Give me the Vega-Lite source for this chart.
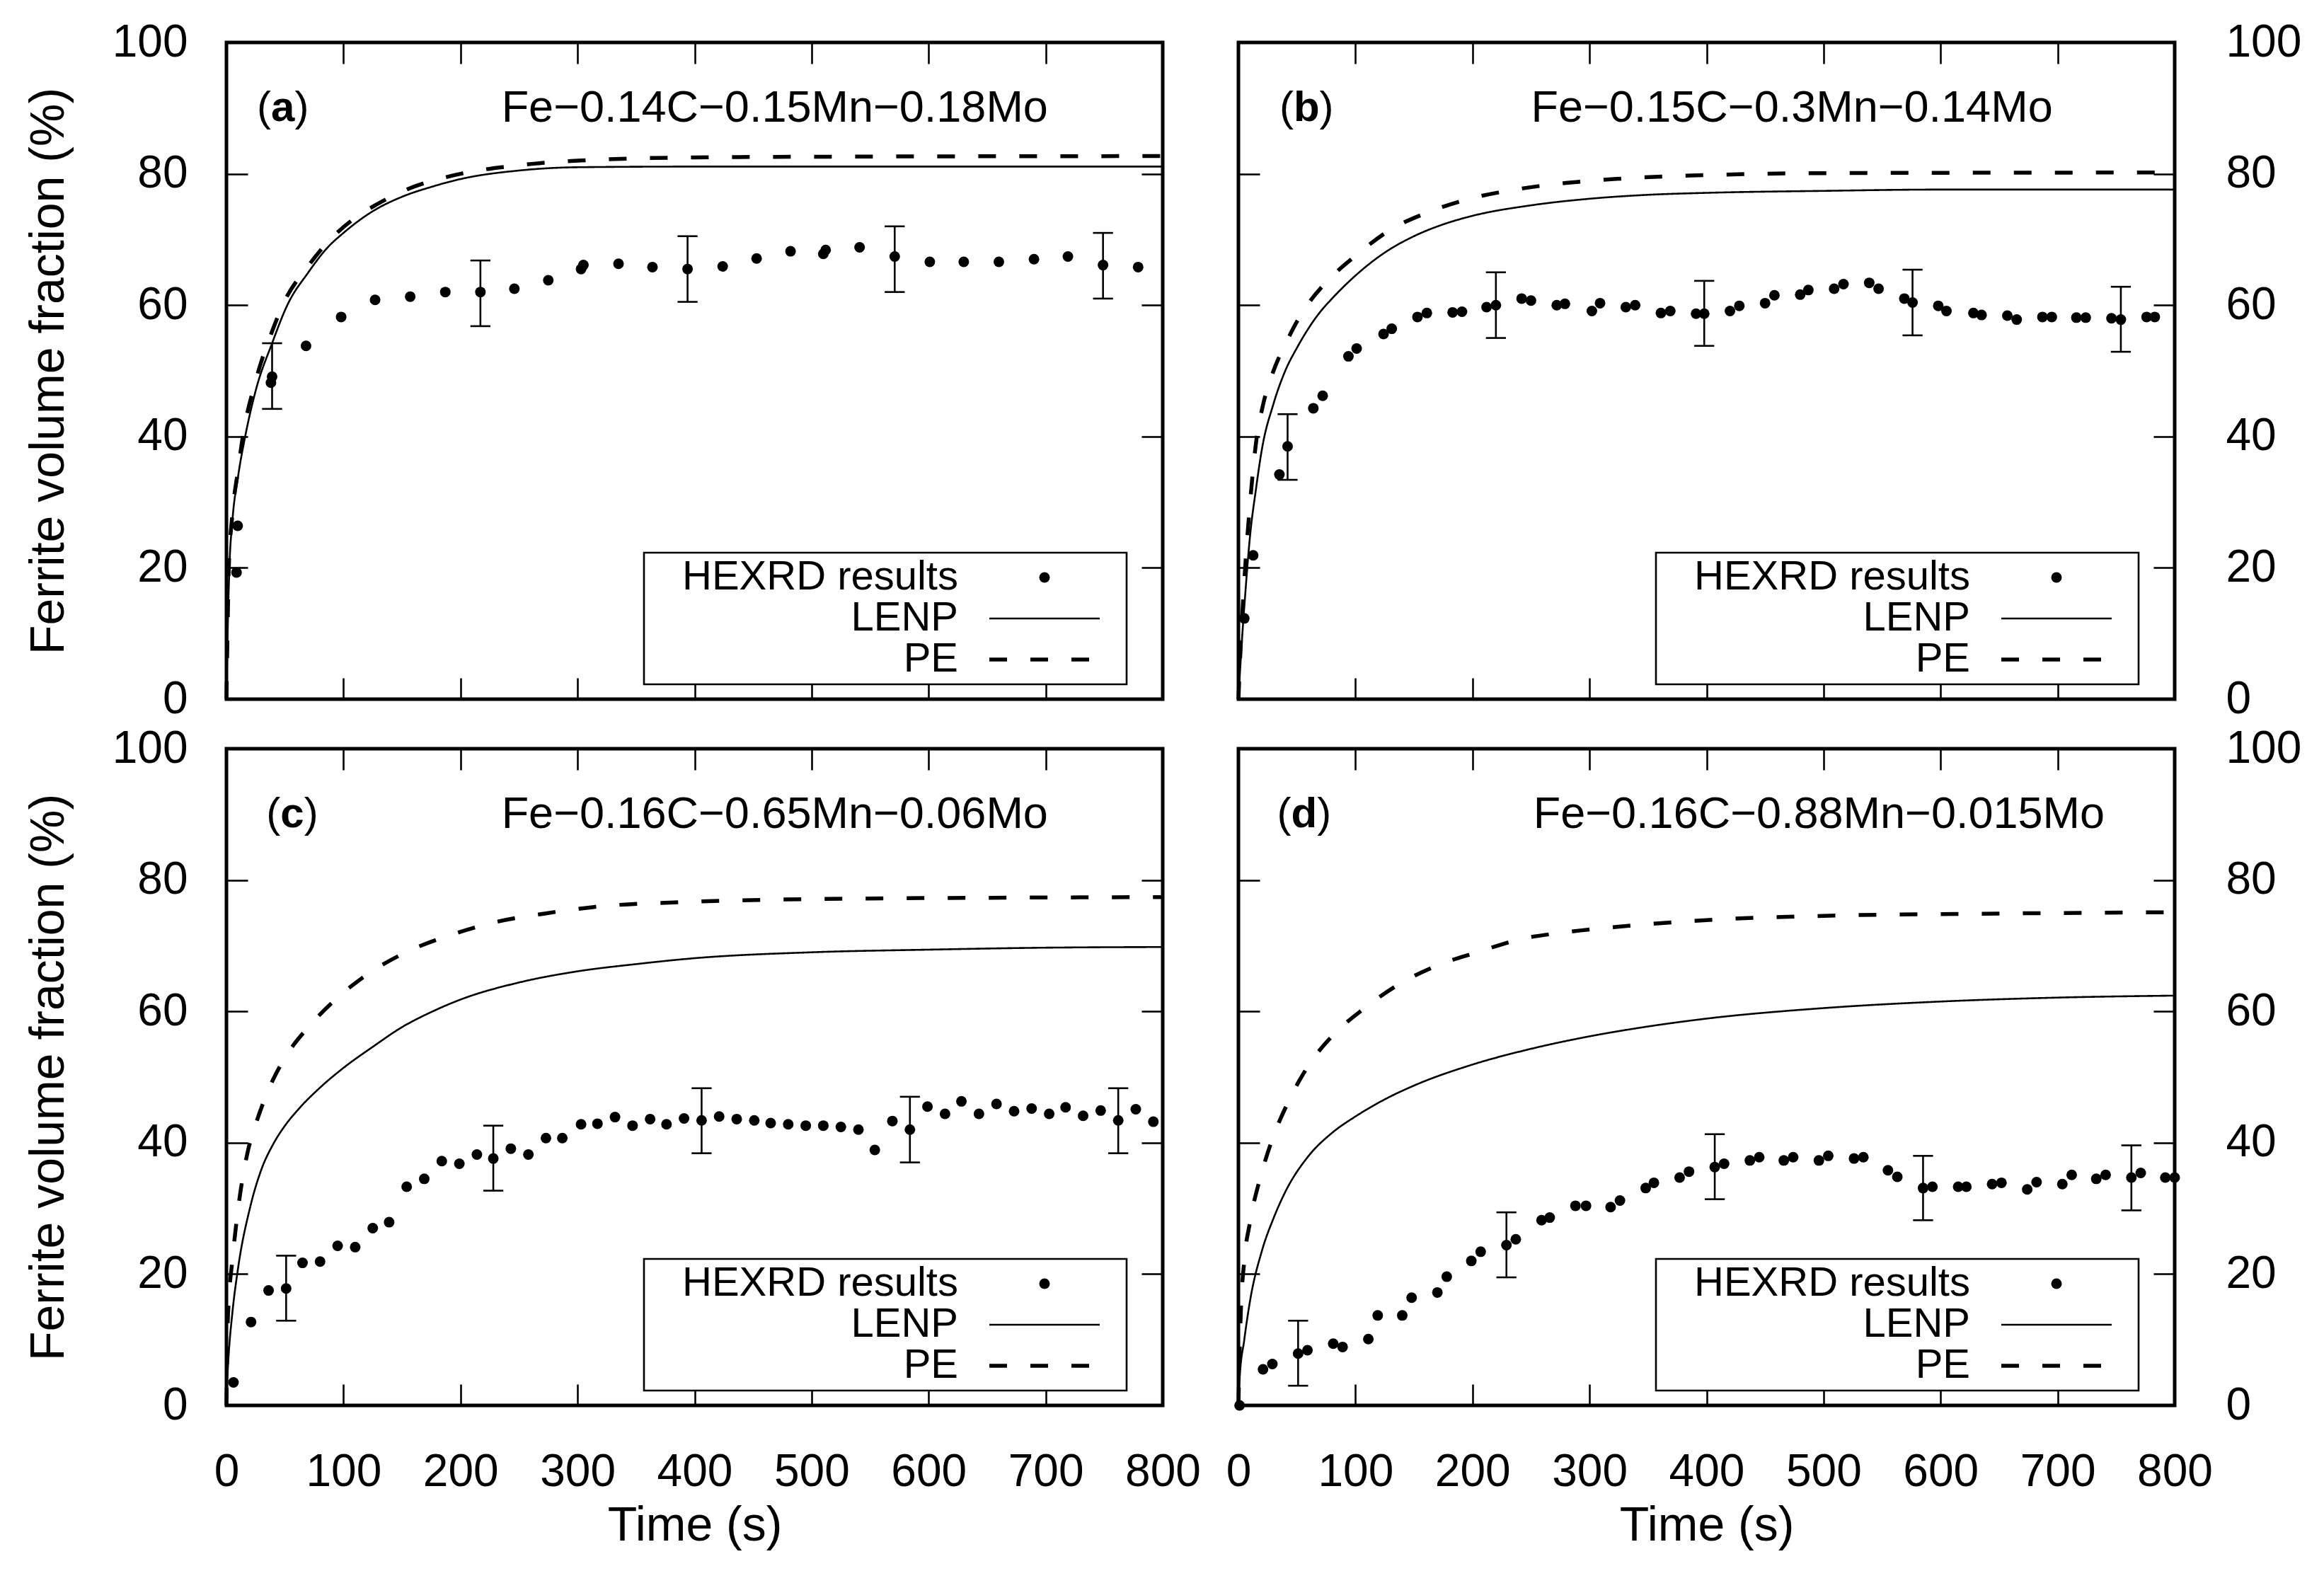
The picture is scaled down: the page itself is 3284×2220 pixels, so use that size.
{
  "$schema": "https://vega.github.io/schema/vega-lite/v6.json",
  "background": "white",
  "padding": {"left": 32, "top": 25, "right": 30, "bottom": 20},
  "datasets": {
    "hexrd": [
      {"p": "a", "t": 8.6, "v": 19.3}, {"p": "a", "t": 9.6, "v": 26.4}, {"p": "a", "t": 38, "v": 48.2}, {"p": "a", "t": 39, "v": 49.1},
      {"p": "a", "t": 68, "v": 53.8}, {"p": "a", "t": 98, "v": 58.2}, {"p": "a", "t": 127, "v": 60.8}, {"p": "a", "t": 157, "v": 61.3},
      {"p": "a", "t": 187, "v": 62}, {"p": "a", "t": 217, "v": 62}, {"p": "a", "t": 246, "v": 62.5}, {"p": "a", "t": 275, "v": 63.8},
      {"p": "a", "t": 303, "v": 65.5}, {"p": "a", "t": 305, "v": 66.1}, {"p": "a", "t": 335, "v": 66.3}, {"p": "a", "t": 364, "v": 65.8},
      {"p": "a", "t": 394, "v": 65.5}, {"p": "a", "t": 424, "v": 65.9}, {"p": "a", "t": 453, "v": 67.1}, {"p": "a", "t": 482, "v": 68.2},
      {"p": "a", "t": 510, "v": 67.8}, {"p": "a", "t": 512, "v": 68.4}, {"p": "a", "t": 541, "v": 68.8}, {"p": "a", "t": 571, "v": 67.4},
      {"p": "a", "t": 601, "v": 66.6}, {"p": "a", "t": 630, "v": 66.6}, {"p": "a", "t": 660, "v": 66.6}, {"p": "a", "t": 690, "v": 67},
      {"p": "a", "t": 719, "v": 67.4}, {"p": "a", "t": 749, "v": 66.1}, {"p": "a", "t": 779, "v": 65.8},

      {"p": "b", "t": 5, "v": 12.3}, {"p": "b", "t": 12.6, "v": 21.9}, {"p": "b", "t": 35, "v": 34.2}, {"p": "b", "t": 42, "v": 38.5},
      {"p": "b", "t": 64, "v": 44.3}, {"p": "b", "t": 72, "v": 46.2}, {"p": "b", "t": 94, "v": 52.2}, {"p": "b", "t": 101, "v": 53.4},
      {"p": "b", "t": 124, "v": 55.6}, {"p": "b", "t": 131, "v": 56.4}, {"p": "b", "t": 153, "v": 58.2}, {"p": "b", "t": 161, "v": 58.8},
      {"p": "b", "t": 183, "v": 58.9}, {"p": "b", "t": 191, "v": 59}, {"p": "b", "t": 212, "v": 59.7}, {"p": "b", "t": 220, "v": 60},
      {"p": "b", "t": 242, "v": 61}, {"p": "b", "t": 250, "v": 60.7}, {"p": "b", "t": 272, "v": 60}, {"p": "b", "t": 279, "v": 60.2},
      {"p": "b", "t": 302, "v": 59.1}, {"p": "b", "t": 309, "v": 60.3}, {"p": "b", "t": 331, "v": 59.7}, {"p": "b", "t": 339, "v": 60},
      {"p": "b", "t": 361, "v": 58.8}, {"p": "b", "t": 369, "v": 59.1}, {"p": "b", "t": 391, "v": 58.7}, {"p": "b", "t": 398, "v": 58.7},
      {"p": "b", "t": 420, "v": 59.1}, {"p": "b", "t": 428, "v": 59.9}, {"p": "b", "t": 450, "v": 60.3}, {"p": "b", "t": 458, "v": 61.5},
      {"p": "b", "t": 480, "v": 61.6}, {"p": "b", "t": 487, "v": 62.3}, {"p": "b", "t": 509, "v": 62.5}, {"p": "b", "t": 517, "v": 63.2},
      {"p": "b", "t": 539, "v": 63.4}, {"p": "b", "t": 547, "v": 62.5}, {"p": "b", "t": 569, "v": 61}, {"p": "b", "t": 576, "v": 60.4},
      {"p": "b", "t": 598, "v": 59.9}, {"p": "b", "t": 605, "v": 59.1}, {"p": "b", "t": 628, "v": 58.8}, {"p": "b", "t": 635, "v": 58.5},
      {"p": "b", "t": 657, "v": 58.4}, {"p": "b", "t": 665, "v": 57.8}, {"p": "b", "t": 687, "v": 58.2}, {"p": "b", "t": 695, "v": 58.2},
      {"p": "b", "t": 716, "v": 58.1}, {"p": "b", "t": 724, "v": 58.1}, {"p": "b", "t": 746, "v": 58}, {"p": "b", "t": 754, "v": 57.8},
      {"p": "b", "t": 776, "v": 58.2}, {"p": "b", "t": 783, "v": 58.2},

      {"p": "c", "t": 6, "v": 3.5}, {"p": "c", "t": 21, "v": 12.7}, {"p": "c", "t": 36, "v": 17.5}, {"p": "c", "t": 51, "v": 17.8},
      {"p": "c", "t": 65, "v": 21.7}, {"p": "c", "t": 80, "v": 21.9}, {"p": "c", "t": 95, "v": 24.3}, {"p": "c", "t": 110, "v": 24.1},
      {"p": "c", "t": 125, "v": 27}, {"p": "c", "t": 139, "v": 27.9}, {"p": "c", "t": 154, "v": 33.3}, {"p": "c", "t": 169, "v": 34.5},
      {"p": "c", "t": 184, "v": 37.2}, {"p": "c", "t": 199, "v": 36.8}, {"p": "c", "t": 214, "v": 38.2}, {"p": "c", "t": 228, "v": 37.6},
      {"p": "c", "t": 243, "v": 39.1}, {"p": "c", "t": 258, "v": 38.2}, {"p": "c", "t": 273, "v": 40.7}, {"p": "c", "t": 287, "v": 40.7},
      {"p": "c", "t": 303, "v": 42.8}, {"p": "c", "t": 317, "v": 42.9}, {"p": "c", "t": 332, "v": 43.9}, {"p": "c", "t": 347, "v": 42.6},
      {"p": "c", "t": 362, "v": 43.6}, {"p": "c", "t": 376, "v": 42.8}, {"p": "c", "t": 391, "v": 43.7}, {"p": "c", "t": 406, "v": 43.4},
      {"p": "c", "t": 421, "v": 44}, {"p": "c", "t": 436, "v": 43.6}, {"p": "c", "t": 451, "v": 43.4}, {"p": "c", "t": 465, "v": 43},
      {"p": "c", "t": 480, "v": 42.8}, {"p": "c", "t": 495, "v": 42.6}, {"p": "c", "t": 510, "v": 42.6}, {"p": "c", "t": 525, "v": 42.4},
      {"p": "c", "t": 540, "v": 42}, {"p": "c", "t": 554, "v": 38.9}, {"p": "c", "t": 569, "v": 43.3}, {"p": "c", "t": 584, "v": 42},
      {"p": "c", "t": 599, "v": 45.5}, {"p": "c", "t": 614, "v": 44.4}, {"p": "c", "t": 628, "v": 46.3}, {"p": "c", "t": 643, "v": 44.4},
      {"p": "c", "t": 658, "v": 45.9}, {"p": "c", "t": 673, "v": 44.8}, {"p": "c", "t": 688, "v": 45.2}, {"p": "c", "t": 703, "v": 44.4},
      {"p": "c", "t": 717, "v": 45.4}, {"p": "c", "t": 732, "v": 44.1}, {"p": "c", "t": 747, "v": 44.9}, {"p": "c", "t": 762, "v": 43.4},
      {"p": "c", "t": 777, "v": 45.1}, {"p": "c", "t": 792, "v": 43.2},

      {"p": "d", "t": 1, "v": 0}, {"p": "d", "t": 21, "v": 5.5}, {"p": "d", "t": 29, "v": 6.3}, {"p": "d", "t": 51, "v": 7.9},
      {"p": "d", "t": 59, "v": 8.4}, {"p": "d", "t": 81, "v": 9.4}, {"p": "d", "t": 89, "v": 8.9}, {"p": "d", "t": 111, "v": 10.1},
      {"p": "d", "t": 119, "v": 13.7}, {"p": "d", "t": 140, "v": 13.7}, {"p": "d", "t": 148, "v": 16.4}, {"p": "d", "t": 170, "v": 17.2},
      {"p": "d", "t": 178, "v": 19.6}, {"p": "d", "t": 199, "v": 22}, {"p": "d", "t": 207, "v": 23.4}, {"p": "d", "t": 229, "v": 24.4},
      {"p": "d", "t": 237, "v": 25.3}, {"p": "d", "t": 259, "v": 28.2}, {"p": "d", "t": 266, "v": 28.6}, {"p": "d", "t": 288, "v": 30.4},
      {"p": "d", "t": 297, "v": 30.4}, {"p": "d", "t": 318, "v": 30.2}, {"p": "d", "t": 326, "v": 31.2}, {"p": "d", "t": 348, "v": 33.1},
      {"p": "d", "t": 355, "v": 33.9}, {"p": "d", "t": 377, "v": 34.7}, {"p": "d", "t": 385, "v": 35.6}, {"p": "d", "t": 407, "v": 36.3},
      {"p": "d", "t": 415, "v": 36.8}, {"p": "d", "t": 437, "v": 37.3}, {"p": "d", "t": 445, "v": 37.8}, {"p": "d", "t": 466, "v": 37.3},
      {"p": "d", "t": 474, "v": 37.8}, {"p": "d", "t": 496, "v": 37.3}, {"p": "d", "t": 504, "v": 38}, {"p": "d", "t": 526, "v": 37.6},
      {"p": "d", "t": 534, "v": 37.8}, {"p": "d", "t": 555, "v": 35.8}, {"p": "d", "t": 563, "v": 34.8}, {"p": "d", "t": 585, "v": 33.1},
      {"p": "d", "t": 593, "v": 33.3}, {"p": "d", "t": 615, "v": 33.3}, {"p": "d", "t": 622, "v": 33.3}, {"p": "d", "t": 644, "v": 33.7},
      {"p": "d", "t": 652, "v": 33.9}, {"p": "d", "t": 674, "v": 32.9}, {"p": "d", "t": 682, "v": 34}, {"p": "d", "t": 704, "v": 33.7},
      {"p": "d", "t": 712, "v": 35.1}, {"p": "d", "t": 733, "v": 34.5}, {"p": "d", "t": 741, "v": 35.1}, {"p": "d", "t": 763, "v": 34.7},
      {"p": "d", "t": 771, "v": 35.4}, {"p": "d", "t": 792, "v": 34.7}, {"p": "d", "t": 800, "v": 34.7}
    ],
    "errs": [
      {"p": "a", "t": 39, "lo": 44.2, "hi": 54.2}, {"p": "a", "t": 217, "lo": 56.8, "hi": 66.8}, {"p": "a", "t": 394, "lo": 60.5, "hi": 70.5},
      {"p": "a", "t": 571, "lo": 62, "hi": 72}, {"p": "a", "t": 749, "lo": 61, "hi": 71},
      {"p": "b", "t": 42, "lo": 33.4, "hi": 43.4}, {"p": "b", "t": 220, "lo": 55, "hi": 65}, {"p": "b", "t": 398, "lo": 53.8, "hi": 63.7},
      {"p": "b", "t": 576, "lo": 55.4, "hi": 65.4}, {"p": "b", "t": 754, "lo": 52.9, "hi": 62.8},
      {"p": "c", "t": 51, "lo": 12.9, "hi": 22.8}, {"p": "c", "t": 228, "lo": 32.7, "hi": 42.6}, {"p": "c", "t": 406, "lo": 38.4, "hi": 48.3},
      {"p": "c", "t": 584, "lo": 37, "hi": 47}, {"p": "c", "t": 762, "lo": 38.4, "hi": 48.3},
      {"p": "d", "t": 51, "lo": 3, "hi": 12.9}, {"p": "d", "t": 229, "lo": 19.5, "hi": 29.4}, {"p": "d", "t": 407, "lo": 31.4, "hi": 41.3},
      {"p": "d", "t": 585, "lo": 28.2, "hi": 38}, {"p": "d", "t": 763, "lo": 29.7, "hi": 39.6}
    ],
    "models": [
      {"p": "a", "m": "LENP", "t": 0, "v": 0}, {"p": "a", "m": "LENP", "t": 1, "v": 10}, {"p": "a", "m": "LENP", "t": 2.5, "v": 20},
      {"p": "a", "m": "LENP", "t": 5, "v": 27}, {"p": "a", "m": "LENP", "t": 10, "v": 34}, {"p": "a", "m": "LENP", "t": 16, "v": 40},
      {"p": "a", "m": "LENP", "t": 25, "v": 47}, {"p": "a", "m": "LENP", "t": 39, "v": 54.2}, {"p": "a", "m": "LENP", "t": 52, "v": 60},
      {"p": "a", "m": "LENP", "t": 70, "v": 65}, {"p": "a", "m": "LENP", "t": 86, "v": 68.7}, {"p": "a", "m": "LENP", "t": 100, "v": 71},
      {"p": "a", "m": "LENP", "t": 125, "v": 74.3}, {"p": "a", "m": "LENP", "t": 150, "v": 76.5}, {"p": "a", "m": "LENP", "t": 175, "v": 78},
      {"p": "a", "m": "LENP", "t": 200, "v": 79.2}, {"p": "a", "m": "LENP", "t": 250, "v": 80.5}, {"p": "a", "m": "LENP", "t": 300, "v": 81},
      {"p": "a", "m": "LENP", "t": 400, "v": 81.1}, {"p": "a", "m": "LENP", "t": 600, "v": 81.1}, {"p": "a", "m": "LENP", "t": 800, "v": 81.1},
      {"p": "a", "m": "PE", "t": 0, "v": 0}, {"p": "a", "m": "PE", "t": 1, "v": 11}, {"p": "a", "m": "PE", "t": 2, "v": 20},
      {"p": "a", "m": "PE", "t": 5, "v": 28}, {"p": "a", "m": "PE", "t": 10, "v": 35}, {"p": "a", "m": "PE", "t": 14, "v": 40},
      {"p": "a", "m": "PE", "t": 25, "v": 48.5}, {"p": "a", "m": "PE", "t": 39, "v": 56}, {"p": "a", "m": "PE", "t": 48, "v": 60},
      {"p": "a", "m": "PE", "t": 70, "v": 66}, {"p": "a", "m": "PE", "t": 86, "v": 69.5}, {"p": "a", "m": "PE", "t": 110, "v": 73.3},
      {"p": "a", "m": "PE", "t": 128, "v": 75.3}, {"p": "a", "m": "PE", "t": 150, "v": 77.3}, {"p": "a", "m": "PE", "t": 200, "v": 80},
      {"p": "a", "m": "PE", "t": 250, "v": 81.3}, {"p": "a", "m": "PE", "t": 300, "v": 82}, {"p": "a", "m": "PE", "t": 400, "v": 82.5},
      {"p": "a", "m": "PE", "t": 500, "v": 82.6}, {"p": "a", "m": "PE", "t": 800, "v": 82.7},

      {"p": "b", "m": "LENP", "t": 0, "v": 0}, {"p": "b", "m": "LENP", "t": 3, "v": 9}, {"p": "b", "m": "LENP", "t": 5, "v": 14},
      {"p": "b", "m": "LENP", "t": 10, "v": 25}, {"p": "b", "m": "LENP", "t": 15, "v": 32}, {"p": "b", "m": "LENP", "t": 20, "v": 38},
      {"p": "b", "m": "LENP", "t": 30, "v": 45}, {"p": "b", "m": "LENP", "t": 40, "v": 50}, {"p": "b", "m": "LENP", "t": 50, "v": 53.5},
      {"p": "b", "m": "LENP", "t": 60, "v": 56.5}, {"p": "b", "m": "LENP", "t": 70, "v": 59}, {"p": "b", "m": "LENP", "t": 80, "v": 61},
      {"p": "b", "m": "LENP", "t": 100, "v": 64.5}, {"p": "b", "m": "LENP", "t": 125, "v": 68}, {"p": "b", "m": "LENP", "t": 150, "v": 70.5},
      {"p": "b", "m": "LENP", "t": 175, "v": 72.3}, {"p": "b", "m": "LENP", "t": 200, "v": 73.6}, {"p": "b", "m": "LENP", "t": 250, "v": 75.2},
      {"p": "b", "m": "LENP", "t": 300, "v": 76.2}, {"p": "b", "m": "LENP", "t": 350, "v": 76.8}, {"p": "b", "m": "LENP", "t": 400, "v": 77.1},
      {"p": "b", "m": "LENP", "t": 500, "v": 77.4}, {"p": "b", "m": "LENP", "t": 600, "v": 77.6}, {"p": "b", "m": "LENP", "t": 800, "v": 77.6},
      {"p": "b", "m": "PE", "t": 0, "v": 0}, {"p": "b", "m": "PE", "t": 3, "v": 12}, {"p": "b", "m": "PE", "t": 5, "v": 18},
      {"p": "b", "m": "PE", "t": 10, "v": 30}, {"p": "b", "m": "PE", "t": 15, "v": 39}, {"p": "b", "m": "PE", "t": 20, "v": 44},
      {"p": "b", "m": "PE", "t": 30, "v": 50}, {"p": "b", "m": "PE", "t": 40, "v": 54}, {"p": "b", "m": "PE", "t": 50, "v": 57.5},
      {"p": "b", "m": "PE", "t": 60, "v": 60.3}, {"p": "b", "m": "PE", "t": 75, "v": 63.5}, {"p": "b", "m": "PE", "t": 100, "v": 67.5},
      {"p": "b", "m": "PE", "t": 130, "v": 71.5}, {"p": "b", "m": "PE", "t": 160, "v": 74}, {"p": "b", "m": "PE", "t": 200, "v": 76.3},
      {"p": "b", "m": "PE", "t": 240, "v": 77.7}, {"p": "b", "m": "PE", "t": 280, "v": 78.6}, {"p": "b", "m": "PE", "t": 330, "v": 79.3},
      {"p": "b", "m": "PE", "t": 400, "v": 79.8}, {"p": "b", "m": "PE", "t": 500, "v": 80.1}, {"p": "b", "m": "PE", "t": 800, "v": 80.2},

      {"p": "c", "m": "LENP", "t": 0, "v": 0}, {"p": "c", "m": "LENP", "t": 1, "v": 5}, {"p": "c", "m": "LENP", "t": 2, "v": 8},
      {"p": "c", "m": "LENP", "t": 5, "v": 14}, {"p": "c", "m": "LENP", "t": 10, "v": 21}, {"p": "c", "m": "LENP", "t": 20, "v": 30},
      {"p": "c", "m": "LENP", "t": 30, "v": 36}, {"p": "c", "m": "LENP", "t": 40, "v": 39.8}, {"p": "c", "m": "LENP", "t": 50, "v": 42.6},
      {"p": "c", "m": "LENP", "t": 60, "v": 44.8}, {"p": "c", "m": "LENP", "t": 80, "v": 48.4}, {"p": "c", "m": "LENP", "t": 100, "v": 51.4},
      {"p": "c", "m": "LENP", "t": 125, "v": 54.6}, {"p": "c", "m": "LENP", "t": 150, "v": 57.6}, {"p": "c", "m": "LENP", "t": 175, "v": 59.9},
      {"p": "c", "m": "LENP", "t": 200, "v": 61.8}, {"p": "c", "m": "LENP", "t": 250, "v": 64.4}, {"p": "c", "m": "LENP", "t": 300, "v": 66.1},
      {"p": "c", "m": "LENP", "t": 350, "v": 67.2}, {"p": "c", "m": "LENP", "t": 400, "v": 68.1}, {"p": "c", "m": "LENP", "t": 500, "v": 69},
      {"p": "c", "m": "LENP", "t": 600, "v": 69.4}, {"p": "c", "m": "LENP", "t": 700, "v": 69.7}, {"p": "c", "m": "LENP", "t": 800, "v": 69.8},
      {"p": "c", "m": "PE", "t": 0, "v": 0}, {"p": "c", "m": "PE", "t": 1, "v": 12}, {"p": "c", "m": "PE", "t": 2, "v": 16},
      {"p": "c", "m": "PE", "t": 5, "v": 22}, {"p": "c", "m": "PE", "t": 10, "v": 30}, {"p": "c", "m": "PE", "t": 18, "v": 38.5},
      {"p": "c", "m": "PE", "t": 25, "v": 42.8}, {"p": "c", "m": "PE", "t": 37, "v": 48.5}, {"p": "c", "m": "PE", "t": 52, "v": 53.5},
      {"p": "c", "m": "PE", "t": 71, "v": 57.8}, {"p": "c", "m": "PE", "t": 97, "v": 62.4}, {"p": "c", "m": "PE", "t": 126, "v": 66.3},
      {"p": "c", "m": "PE", "t": 157, "v": 69.3}, {"p": "c", "m": "PE", "t": 191, "v": 71.6}, {"p": "c", "m": "PE", "t": 230, "v": 73.6},
      {"p": "c", "m": "PE", "t": 272, "v": 74.9}, {"p": "c", "m": "PE", "t": 314, "v": 75.9}, {"p": "c", "m": "PE", "t": 400, "v": 76.7},
      {"p": "c", "m": "PE", "t": 500, "v": 77.1}, {"p": "c", "m": "PE", "t": 650, "v": 77.3}, {"p": "c", "m": "PE", "t": 800, "v": 77.4},

      {"p": "d", "m": "LENP", "t": 0, "v": 0}, {"p": "d", "m": "LENP", "t": 1, "v": 4}, {"p": "d", "m": "LENP", "t": 5, "v": 10},
      {"p": "d", "m": "LENP", "t": 10, "v": 16}, {"p": "d", "m": "LENP", "t": 20, "v": 23.5}, {"p": "d", "m": "LENP", "t": 30, "v": 28.5},
      {"p": "d", "m": "LENP", "t": 40, "v": 32.5}, {"p": "d", "m": "LENP", "t": 60, "v": 38}, {"p": "d", "m": "LENP", "t": 80, "v": 41.5},
      {"p": "d", "m": "LENP", "t": 100, "v": 44}, {"p": "d", "m": "LENP", "t": 125, "v": 46.6}, {"p": "d", "m": "LENP", "t": 150, "v": 48.7},
      {"p": "d", "m": "LENP", "t": 200, "v": 51.9}, {"p": "d", "m": "LENP", "t": 250, "v": 54.3}, {"p": "d", "m": "LENP", "t": 300, "v": 56.2},
      {"p": "d", "m": "LENP", "t": 350, "v": 57.7}, {"p": "d", "m": "LENP", "t": 400, "v": 58.9}, {"p": "d", "m": "LENP", "t": 500, "v": 60.5},
      {"p": "d", "m": "LENP", "t": 600, "v": 61.5}, {"p": "d", "m": "LENP", "t": 700, "v": 62.1}, {"p": "d", "m": "LENP", "t": 800, "v": 62.4},
      {"p": "d", "m": "PE", "t": 0, "v": 0}, {"p": "d", "m": "PE", "t": 1, "v": 8}, {"p": "d", "m": "PE", "t": 2, "v": 14},
      {"p": "d", "m": "PE", "t": 5, "v": 22}, {"p": "d", "m": "PE", "t": 10, "v": 28}, {"p": "d", "m": "PE", "t": 20, "v": 35.5},
      {"p": "d", "m": "PE", "t": 31, "v": 41.5}, {"p": "d", "m": "PE", "t": 42, "v": 46}, {"p": "d", "m": "PE", "t": 60, "v": 51.8},
      {"p": "d", "m": "PE", "t": 81, "v": 56.4}, {"p": "d", "m": "PE", "t": 107, "v": 60.4}, {"p": "d", "m": "PE", "t": 136, "v": 64},
      {"p": "d", "m": "PE", "t": 170, "v": 67}, {"p": "d", "m": "PE", "t": 204, "v": 69}, {"p": "d", "m": "PE", "t": 241, "v": 71},
      {"p": "d", "m": "PE", "t": 277, "v": 72}, {"p": "d", "m": "PE", "t": 325, "v": 72.9}, {"p": "d", "m": "PE", "t": 400, "v": 73.9},
      {"p": "d", "m": "PE", "t": 513, "v": 74.6}, {"p": "d", "m": "PE", "t": 650, "v": 74.9}, {"p": "d", "m": "PE", "t": 800, "v": 75.1}
    ],
    "labels": [
      {"p": "a", "tag": "a", "alloy": "Fe−0.14C−0.15Mn−0.18Mo"},
      {"p": "b", "tag": "b", "alloy": "Fe−0.15C−0.3Mn−0.14Mo"},
      {"p": "c", "tag": "c", "alloy": "Fe−0.16C−0.65Mn−0.06Mo"},
      {"p": "d", "tag": "d", "alloy": "Fe−0.16C−0.88Mn−0.015Mo"}
    ]
  },
  "vconcat": [
    {
      "bounds": "flush",
      "hconcat": [
        {
          "width": 1323, "height": 928,
          "layer": [
            {
              "data": {"name": "models"}, "transform": [{"filter": "datum.p == 'a'"}],
              "mark": {"type": "line", "interpolate": "monotone", "color": "black"},
              "encoding": {
                "x": {"field": "t", "type": "quantitative", "scale": {"domain": [0, 800]}, "axis": {"orient": "top", "labels": false, "title": null}},
                "y": {"field": "v", "type": "quantitative", "scale": {"domain": [0, 100]}, "axis": {"orient": "right", "labels": false, "title": null}},
                "strokeDash": {"field": "m", "type": "nominal", "scale": {"domain": ["HEXRD results", "LENP", "PE"], "range": [[1, 0], [1, 0], [25, 33]]},
                  "legend": {"title": null, "labelExpr": "'   ' + datum.label", "encode": {"symbols": {"update": {
                    "shape": {"signal": "datum.value === 'HEXRD results' ? 'circle' : 'M-5,0L5,0M6.3,0'"},
                    "size": {"signal": "datum.value === 'HEXRD results' ? 225 : 973"},
                    "strokeWidth": {"signal": "datum.value === 'PE' ? 5.5 : datum.value === 'LENP' ? 2.6 : 0"},
                    "stroke": {"value": "black"},
                    "fill": {"signal": "datum.value === 'HEXRD results' ? 'black' : 'transparent'"},
                    "opacity": {"value": 1}}}}}},
                "strokeWidth": {"field": "m", "type": "nominal", "scale": {"type": "ordinal", "domain": ["LENP", "PE"], "range": [2.6, 5.5]}, "legend": null}
              }
            },
            {
              "data": {"name": "errs"}, "transform": [{"filter": "datum.p == 'a'"}],
              "mark": {"type": "rule", "color": "black", "strokeWidth": 2.6},
              "encoding": {
                "x": {"field": "t", "type": "quantitative", "axis": {"orient": "bottom", "labels": false, "title": null}},
                "y": {"field": "lo", "type": "quantitative", "axis": {"orient": "left", "title": "Ferrite volume fraction (%)"}},
                "y2": {"field": "hi"}
              }
            },
            {
              "data": {"name": "errs"}, "transform": [{"filter": "datum.p == 'a'"}],
              "mark": {"type": "point", "shape": "stroke", "size": 800, "color": "black", "strokeWidth": 2.6, "opacity": 1},
              "encoding": {"x": {"field": "t", "type": "quantitative", "axis": null}, "y": {"field": "lo", "type": "quantitative", "axis": null}}
            },
            {
              "data": {"name": "errs"}, "transform": [{"filter": "datum.p == 'a'"}],
              "mark": {"type": "point", "shape": "stroke", "size": 800, "color": "black", "strokeWidth": 2.6, "opacity": 1},
              "encoding": {"x": {"field": "t", "type": "quantitative", "axis": null}, "y": {"field": "hi", "type": "quantitative", "axis": null}}
            },
            {
              "data": {"name": "hexrd"}, "transform": [{"filter": "datum.p == 'a'"}],
              "mark": {"type": "point", "shape": "circle", "size": 225, "filled": true, "color": "black", "opacity": 1},
              "encoding": {"x": {"field": "t", "type": "quantitative", "axis": null}, "y": {"field": "v", "type": "quantitative", "axis": null}}
            },
            {
              "data": {"name": "labels"}, "transform": [{"filter": "datum.p == 'a'"}],
              "mark": {"type": "text", "align": "left", "baseline": "middle", "text": "("},
              "encoding": {"x": {"datum": 26, "type": "quantitative", "axis": null}, "y": {"datum": 90, "type": "quantitative", "axis": null}}
            },
            {
              "data": {"name": "labels"}, "transform": [{"filter": "datum.p == 'a'"}],
              "mark": {"type": "text", "align": "left", "baseline": "middle", "fontWeight": "bold"},
              "encoding": {"x": {"datum": 38.1, "type": "quantitative", "axis": null}, "y": {"datum": 90, "type": "quantitative", "axis": null}, "text": {"field": "tag"}}
            },
            {
              "data": {"name": "labels"}, "transform": [{"filter": "datum.p == 'a'"}],
              "mark": {"type": "text", "align": "left", "baseline": "middle", "text": ")"},
              "encoding": {"x": {"datum": 58.3, "type": "quantitative", "axis": null}, "y": {"datum": 90, "type": "quantitative", "axis": null}}
            },
            {
              "data": {"name": "labels"}, "transform": [{"filter": "datum.p == 'a'"}],
              "mark": {"type": "text", "align": "left", "baseline": "middle", "fontSize": 63},
              "encoding": {"x": {"datum": 235, "type": "quantitative", "axis": null}, "y": {"datum": 90, "type": "quantitative", "axis": null}, "text": {"field": "alloy"}}
            }
          ],
          "resolve": {"axis": {"x": "independent", "y": "independent"}}
        },
        {
          "width": 1323, "height": 928,
          "layer": [
            {
              "data": {"name": "models"}, "transform": [{"filter": "datum.p == 'b'"}],
              "mark": {"type": "line", "interpolate": "monotone", "color": "black"},
              "encoding": {
                "x": {"field": "t", "type": "quantitative", "scale": {"domain": [0, 800]}, "axis": {"orient": "top", "labels": false, "title": null}},
                "y": {"field": "v", "type": "quantitative", "scale": {"domain": [0, 100]}, "axis": {"orient": "right", "title": null, "labelPadding": 102}},
                "strokeDash": {"field": "m", "type": "nominal", "scale": {"domain": ["HEXRD results", "LENP", "PE"], "range": [[1, 0], [1, 0], [25, 33]]},
                  "legend": {"title": null, "labelExpr": "'   ' + datum.label", "encode": {"symbols": {"update": {
                    "shape": {"signal": "datum.value === 'HEXRD results' ? 'circle' : 'M-5,0L5,0M6.3,0'"},
                    "size": {"signal": "datum.value === 'HEXRD results' ? 225 : 973"},
                    "strokeWidth": {"signal": "datum.value === 'PE' ? 5.5 : datum.value === 'LENP' ? 2.6 : 0"},
                    "stroke": {"value": "black"},
                    "fill": {"signal": "datum.value === 'HEXRD results' ? 'black' : 'transparent'"},
                    "opacity": {"value": 1}}}}}},
                "strokeWidth": {"field": "m", "type": "nominal", "scale": {"type": "ordinal", "domain": ["LENP", "PE"], "range": [2.6, 5.5]}, "legend": null}
              }
            },
            {
              "data": {"name": "errs"}, "transform": [{"filter": "datum.p == 'b'"}],
              "mark": {"type": "rule", "color": "black", "strokeWidth": 2.6},
              "encoding": {
                "x": {"field": "t", "type": "quantitative", "axis": {"orient": "bottom", "labels": false, "title": null}},
                "y": {"field": "lo", "type": "quantitative", "axis": {"orient": "left", "labels": false, "title": null}},
                "y2": {"field": "hi"}
              }
            },
            {
              "data": {"name": "errs"}, "transform": [{"filter": "datum.p == 'b'"}],
              "mark": {"type": "point", "shape": "stroke", "size": 800, "color": "black", "strokeWidth": 2.6, "opacity": 1},
              "encoding": {"x": {"field": "t", "type": "quantitative", "axis": null}, "y": {"field": "lo", "type": "quantitative", "axis": null}}
            },
            {
              "data": {"name": "errs"}, "transform": [{"filter": "datum.p == 'b'"}],
              "mark": {"type": "point", "shape": "stroke", "size": 800, "color": "black", "strokeWidth": 2.6, "opacity": 1},
              "encoding": {"x": {"field": "t", "type": "quantitative", "axis": null}, "y": {"field": "hi", "type": "quantitative", "axis": null}}
            },
            {
              "data": {"name": "hexrd"}, "transform": [{"filter": "datum.p == 'b'"}],
              "mark": {"type": "point", "shape": "circle", "size": 225, "filled": true, "color": "black", "opacity": 1},
              "encoding": {"x": {"field": "t", "type": "quantitative", "axis": null}, "y": {"field": "v", "type": "quantitative", "axis": null}}
            },
            {
              "data": {"name": "labels"}, "transform": [{"filter": "datum.p == 'b'"}],
              "mark": {"type": "text", "align": "left", "baseline": "middle", "text": "("},
              "encoding": {"x": {"datum": 35, "type": "quantitative", "axis": null}, "y": {"datum": 90, "type": "quantitative", "axis": null}}
            },
            {
              "data": {"name": "labels"}, "transform": [{"filter": "datum.p == 'b'"}],
              "mark": {"type": "text", "align": "left", "baseline": "middle", "fontWeight": "bold"},
              "encoding": {"x": {"datum": 47.1, "type": "quantitative", "axis": null}, "y": {"datum": 90, "type": "quantitative", "axis": null}, "text": {"field": "tag"}}
            },
            {
              "data": {"name": "labels"}, "transform": [{"filter": "datum.p == 'b'"}],
              "mark": {"type": "text", "align": "left", "baseline": "middle", "text": ")"},
              "encoding": {"x": {"datum": 69.3, "type": "quantitative", "axis": null}, "y": {"datum": 90, "type": "quantitative", "axis": null}}
            },
            {
              "data": {"name": "labels"}, "transform": [{"filter": "datum.p == 'b'"}],
              "mark": {"type": "text", "align": "left", "baseline": "middle", "fontSize": 63},
              "encoding": {"x": {"datum": 250, "type": "quantitative", "axis": null}, "y": {"datum": 90, "type": "quantitative", "axis": null}, "text": {"field": "alloy"}}
            }
          ],
          "resolve": {"axis": {"x": "independent", "y": "independent"}}
        }
      ],
      "spacing": 107,
      "resolve": {"scale": {"strokeDash": "independent", "strokeWidth": "independent"}}
    },
    {
      "bounds": "flush",
      "hconcat": [
        {
          "width": 1323, "height": 928,
          "layer": [
            {
              "data": {"name": "models"}, "transform": [{"filter": "datum.p == 'c'"}],
              "mark": {"type": "line", "interpolate": "monotone", "color": "black"},
              "encoding": {
                "x": {"field": "t", "type": "quantitative", "scale": {"domain": [0, 800]}, "axis": {"orient": "top", "labels": false, "title": null}},
                "y": {"field": "v", "type": "quantitative", "scale": {"domain": [0, 100]}, "axis": {"orient": "right", "labels": false, "title": null}},
                "strokeDash": {"field": "m", "type": "nominal", "scale": {"domain": ["HEXRD results", "LENP", "PE"], "range": [[1, 0], [1, 0], [25, 33]]},
                  "legend": {"title": null, "labelExpr": "'   ' + datum.label", "encode": {"symbols": {"update": {
                    "shape": {"signal": "datum.value === 'HEXRD results' ? 'circle' : 'M-5,0L5,0M6.3,0'"},
                    "size": {"signal": "datum.value === 'HEXRD results' ? 225 : 973"},
                    "strokeWidth": {"signal": "datum.value === 'PE' ? 5.5 : datum.value === 'LENP' ? 2.6 : 0"},
                    "stroke": {"value": "black"},
                    "fill": {"signal": "datum.value === 'HEXRD results' ? 'black' : 'transparent'"},
                    "opacity": {"value": 1}}}}}},
                "strokeWidth": {"field": "m", "type": "nominal", "scale": {"type": "ordinal", "domain": ["LENP", "PE"], "range": [2.6, 5.5]}, "legend": null}
              }
            },
            {
              "data": {"name": "errs"}, "transform": [{"filter": "datum.p == 'c'"}],
              "mark": {"type": "rule", "color": "black", "strokeWidth": 2.6},
              "encoding": {
                "x": {"field": "t", "type": "quantitative", "axis": {"orient": "bottom", "title": "Time (s)"}},
                "y": {"field": "lo", "type": "quantitative", "axis": {"orient": "left", "title": "Ferrite volume fraction (%)"}},
                "y2": {"field": "hi"}
              }
            },
            {
              "data": {"name": "errs"}, "transform": [{"filter": "datum.p == 'c'"}],
              "mark": {"type": "point", "shape": "stroke", "size": 800, "color": "black", "strokeWidth": 2.6, "opacity": 1},
              "encoding": {"x": {"field": "t", "type": "quantitative", "axis": null}, "y": {"field": "lo", "type": "quantitative", "axis": null}}
            },
            {
              "data": {"name": "errs"}, "transform": [{"filter": "datum.p == 'c'"}],
              "mark": {"type": "point", "shape": "stroke", "size": 800, "color": "black", "strokeWidth": 2.6, "opacity": 1},
              "encoding": {"x": {"field": "t", "type": "quantitative", "axis": null}, "y": {"field": "hi", "type": "quantitative", "axis": null}}
            },
            {
              "data": {"name": "hexrd"}, "transform": [{"filter": "datum.p == 'c'"}],
              "mark": {"type": "point", "shape": "circle", "size": 225, "filled": true, "color": "black", "opacity": 1},
              "encoding": {"x": {"field": "t", "type": "quantitative", "axis": null}, "y": {"field": "v", "type": "quantitative", "axis": null}}
            },
            {
              "data": {"name": "labels"}, "transform": [{"filter": "datum.p == 'c'"}],
              "mark": {"type": "text", "align": "left", "baseline": "middle", "text": "("},
              "encoding": {"x": {"datum": 34, "type": "quantitative", "axis": null}, "y": {"datum": 90, "type": "quantitative", "axis": null}}
            },
            {
              "data": {"name": "labels"}, "transform": [{"filter": "datum.p == 'c'"}],
              "mark": {"type": "text", "align": "left", "baseline": "middle", "fontWeight": "bold"},
              "encoding": {"x": {"datum": 46.1, "type": "quantitative", "axis": null}, "y": {"datum": 90, "type": "quantitative", "axis": null}, "text": {"field": "tag"}}
            },
            {
              "data": {"name": "labels"}, "transform": [{"filter": "datum.p == 'c'"}],
              "mark": {"type": "text", "align": "left", "baseline": "middle", "text": ")"},
              "encoding": {"x": {"datum": 66.3, "type": "quantitative", "axis": null}, "y": {"datum": 90, "type": "quantitative", "axis": null}}
            },
            {
              "data": {"name": "labels"}, "transform": [{"filter": "datum.p == 'c'"}],
              "mark": {"type": "text", "align": "left", "baseline": "middle", "fontSize": 63},
              "encoding": {"x": {"datum": 235, "type": "quantitative", "axis": null}, "y": {"datum": 90, "type": "quantitative", "axis": null}, "text": {"field": "alloy"}}
            }
          ],
          "resolve": {"axis": {"x": "independent", "y": "independent"}}
        },
        {
          "width": 1323, "height": 928,
          "layer": [
            {
              "data": {"name": "models"}, "transform": [{"filter": "datum.p == 'd'"}],
              "mark": {"type": "line", "interpolate": "monotone", "color": "black"},
              "encoding": {
                "x": {"field": "t", "type": "quantitative", "scale": {"domain": [0, 800]}, "axis": {"orient": "top", "labels": false, "title": null}},
                "y": {"field": "v", "type": "quantitative", "scale": {"domain": [0, 100]}, "axis": {"orient": "right", "title": null, "labelPadding": 102}},
                "strokeDash": {"field": "m", "type": "nominal", "scale": {"domain": ["HEXRD results", "LENP", "PE"], "range": [[1, 0], [1, 0], [25, 33]]},
                  "legend": {"title": null, "labelExpr": "'   ' + datum.label", "encode": {"symbols": {"update": {
                    "shape": {"signal": "datum.value === 'HEXRD results' ? 'circle' : 'M-5,0L5,0M6.3,0'"},
                    "size": {"signal": "datum.value === 'HEXRD results' ? 225 : 973"},
                    "strokeWidth": {"signal": "datum.value === 'PE' ? 5.5 : datum.value === 'LENP' ? 2.6 : 0"},
                    "stroke": {"value": "black"},
                    "fill": {"signal": "datum.value === 'HEXRD results' ? 'black' : 'transparent'"},
                    "opacity": {"value": 1}}}}}},
                "strokeWidth": {"field": "m", "type": "nominal", "scale": {"type": "ordinal", "domain": ["LENP", "PE"], "range": [2.6, 5.5]}, "legend": null}
              }
            },
            {
              "data": {"name": "errs"}, "transform": [{"filter": "datum.p == 'd'"}],
              "mark": {"type": "rule", "color": "black", "strokeWidth": 2.6},
              "encoding": {
                "x": {"field": "t", "type": "quantitative", "axis": {"orient": "bottom", "title": "Time (s)"}},
                "y": {"field": "lo", "type": "quantitative", "axis": {"orient": "left", "labels": false, "title": null}},
                "y2": {"field": "hi"}
              }
            },
            {
              "data": {"name": "errs"}, "transform": [{"filter": "datum.p == 'd'"}],
              "mark": {"type": "point", "shape": "stroke", "size": 800, "color": "black", "strokeWidth": 2.6, "opacity": 1},
              "encoding": {"x": {"field": "t", "type": "quantitative", "axis": null}, "y": {"field": "lo", "type": "quantitative", "axis": null}}
            },
            {
              "data": {"name": "errs"}, "transform": [{"filter": "datum.p == 'd'"}],
              "mark": {"type": "point", "shape": "stroke", "size": 800, "color": "black", "strokeWidth": 2.6, "opacity": 1},
              "encoding": {"x": {"field": "t", "type": "quantitative", "axis": null}, "y": {"field": "hi", "type": "quantitative", "axis": null}}
            },
            {
              "data": {"name": "hexrd"}, "transform": [{"filter": "datum.p == 'd'"}],
              "mark": {"type": "point", "shape": "circle", "size": 225, "filled": true, "color": "black", "opacity": 1},
              "encoding": {"x": {"field": "t", "type": "quantitative", "axis": null}, "y": {"field": "v", "type": "quantitative", "axis": null}}
            },
            {
              "data": {"name": "labels"}, "transform": [{"filter": "datum.p == 'd'"}],
              "mark": {"type": "text", "align": "left", "baseline": "middle", "text": "("},
              "encoding": {"x": {"datum": 33, "type": "quantitative", "axis": null}, "y": {"datum": 90, "type": "quantitative", "axis": null}}
            },
            {
              "data": {"name": "labels"}, "transform": [{"filter": "datum.p == 'd'"}],
              "mark": {"type": "text", "align": "left", "baseline": "middle", "fontWeight": "bold"},
              "encoding": {"x": {"datum": 45.1, "type": "quantitative", "axis": null}, "y": {"datum": 90, "type": "quantitative", "axis": null}, "text": {"field": "tag"}}
            },
            {
              "data": {"name": "labels"}, "transform": [{"filter": "datum.p == 'd'"}],
              "mark": {"type": "text", "align": "left", "baseline": "middle", "text": ")"},
              "encoding": {"x": {"datum": 67.3, "type": "quantitative", "axis": null}, "y": {"datum": 90, "type": "quantitative", "axis": null}}
            },
            {
              "data": {"name": "labels"}, "transform": [{"filter": "datum.p == 'd'"}],
              "mark": {"type": "text", "align": "left", "baseline": "middle", "fontSize": 63},
              "encoding": {"x": {"datum": 252, "type": "quantitative", "axis": null}, "y": {"datum": 90, "type": "quantitative", "axis": null}, "text": {"field": "alloy"}}
            }
          ],
          "resolve": {"axis": {"x": "independent", "y": "independent"}}
        }
      ],
      "spacing": 107,
      "resolve": {"scale": {"strokeDash": "independent", "strokeWidth": "independent"}}
    }
  ],
  "spacing": 0,
  "resolve": {"scale": {"strokeDash": "independent", "strokeWidth": "independent"}},
  "config": {
    "font": "Liberation Sans",
    "view": {"stroke": "black", "strokeWidth": 5},
    "text": {"font": "Liberation Sans", "fontSize": 60, "color": "black"},
    "axis": {
      "domain": false, "grid": false, "ticks": true, "tickSize": -30, "tickWidth": 2.6, "tickColor": "black",
      "labelFont": "Liberation Sans", "labelFontSize": 64, "labelColor": "black", "labelFlush": false, "labelOverlap": false,
      "titleFont": "Liberation Sans", "titleFontSize": 68, "titleFontWeight": "normal", "titleColor": "black"
    },
    "axisX": {"tickCount": 8, "labelPadding": 92, "titlePadding": 10},
    "axisY": {"tickCount": 5, "labelPadding": 85, "titlePadding": 55},
    "legend": {
      "orient": "none", "legendX": 590, "legendY": 721, "padding": 6,
      "strokeColor": "black", "strokeWidth": 2.6, "fillColor": "white",
      "labelFont": "Liberation Sans", "labelFontSize": 58, "labelColor": "black", "labelLimit": 0,
      "labelAlign": "right", "labelOffset": -151, "symbolOffset": 531, "symbolSize": 973, "rowPadding": 0,
      "symbolStrokeColor": "black", "symbolFillColor": "black", "symbolOpacity": 1
    }
  }
}
